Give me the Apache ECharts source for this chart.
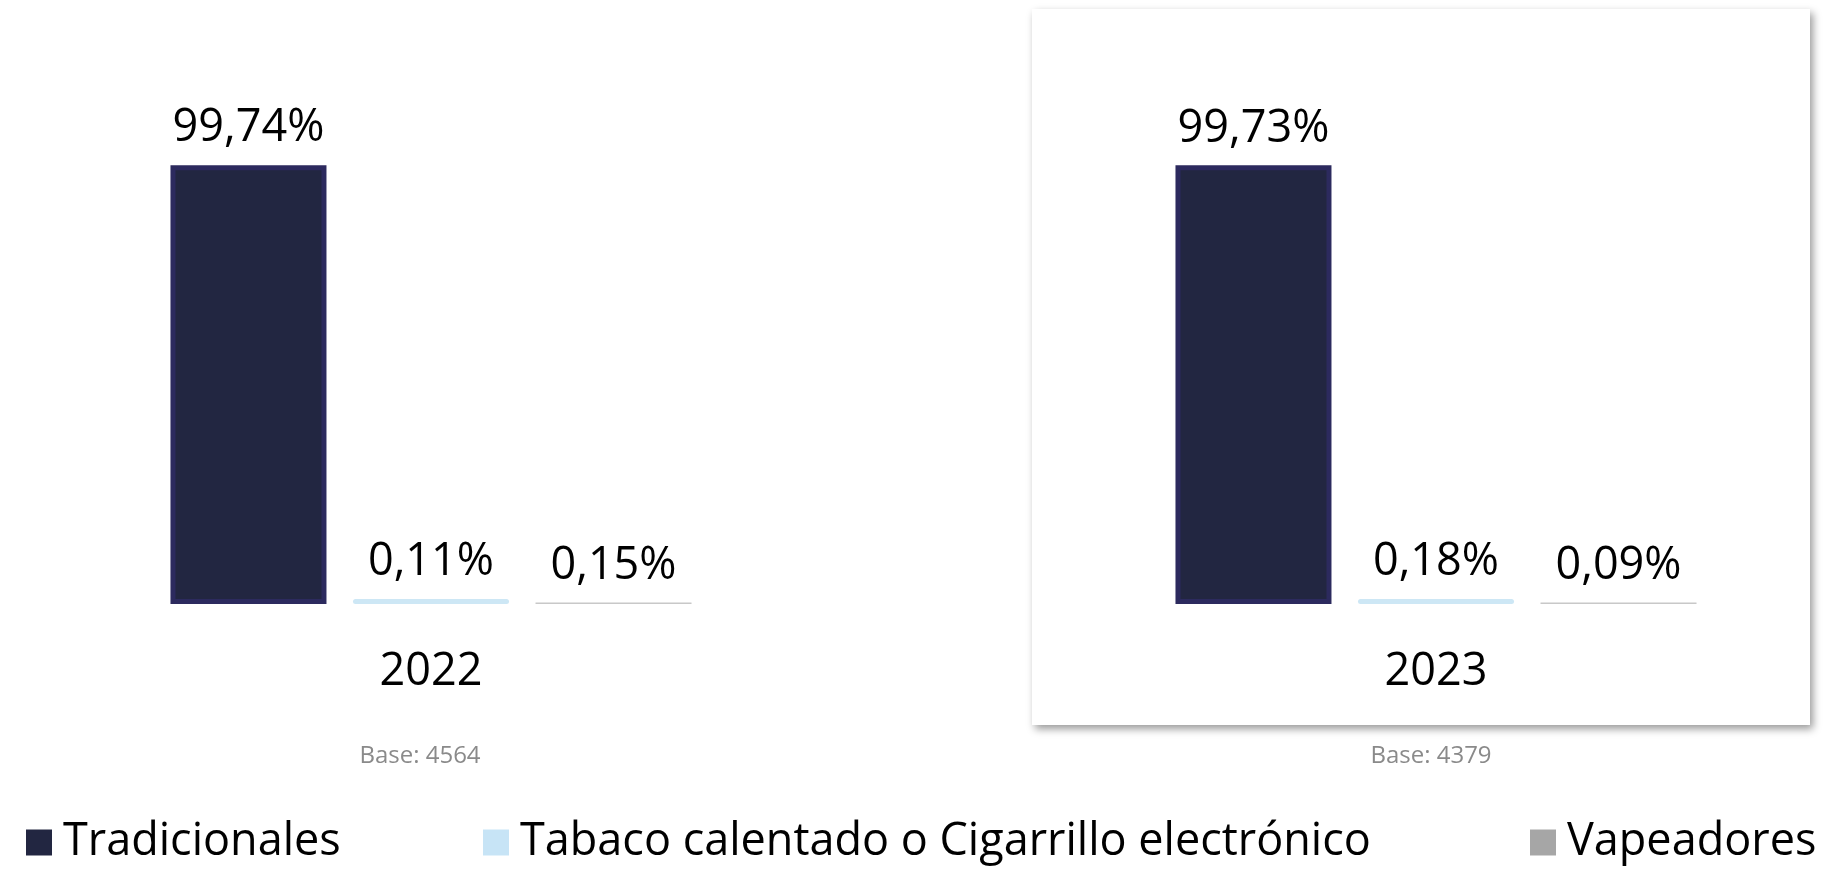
<!DOCTYPE html>
<html>
<head>
<meta charset="utf-8">
<script src="https://cdn.jsdelivr.net/npm/echarts@6/dist/echarts.min.js"></script>
<style>
html,body{margin:0;padding:0;background:#fff;}
#main{width:1824px;height:869px;}
</style>
</head>
<body>
<div id="main"></div>
<script>
const years = ['2022', '2023'];
const seriesNames = ['Tradicionales', 'Tabaco calentado o Cigarrillo electrónico', 'Vapeadores'];
const tradicionales = [99.74, 99.73];
const tabaco = [0.11, 0.18];
const vapeadores = [0.15, 0.09];
const bases = [4564, 4379];

const FONT = '"Open Sans", "Noto Sans", sans-serif';
const chart = echarts.init(document.getElementById('main'));

const gridCenters = [431, 1436];
const gridWidth = 600;
const barW = 156;

const fmt = p => p.value.toFixed(2).replace('.', ',') + '%';
const labelCfg = {
  show: true, position: 'top', distance: 14,
  formatter: fmt, color: '#000', fontSize: 45, fontFamily: FONT
};

const grids = gridCenters.map(c => ({
  left: c - gridWidth / 2, width: gridWidth, top: 164, bottom: 265
}));
const xAxes = years.map((y, i) => ({
  type: 'category', gridIndex: i, data: [y],
  axisLine: { show: false }, axisTick: { show: false },
  axisLabel: { color: '#000', fontSize: 45, fontFamily: FONT, margin: 46 }
}));
const yAxes = years.map((y, i) => ({
  type: 'value', gridIndex: i, min: 0, max: 100, show: false
}));

const series = [];
years.forEach((y, i) => {
  series.push({
    name: seriesNames[0], type: 'bar', xAxisIndex: i, yAxisIndex: i,
    data: [tradicionales[i]], barWidth: barW, barGap: '17%',
    itemStyle: { color: '#222641', borderColor: '#2c2a5e', borderWidth: 5 },
    label: labelCfg, z: 3
  });
  series.push({
    name: seriesNames[1], type: 'bar', xAxisIndex: i, yAxisIndex: i,
    data: [tabaco[i]], barWidth: barW, barGap: '17%', barMinHeight: 5,
    itemStyle: { color: '#cde7f5', borderRadius: 3 },
    label: labelCfg, z: 3
  });
  series.push({
    name: seriesNames[2], type: 'bar', xAxisIndex: i, yAxisIndex: i,
    data: vapeadores.slice(i, i + 1).map(v => ({ value: v, itemStyle: { color: '#c8c8c8' } })),
    barWidth: barW, barGap: '17%', barMinHeight: 1.5,
    itemStyle: { color: '#a6a6a6' },
    label: labelCfg, z: 3
  });
});

const legendLefts = [21, 478, 1525];
const legendColors = ['#222641', '#c7e4f6', '#a6a6a6'];
const legends = seriesNames.map((n, i) => ({
  data: [n], left: legendLefts[i], top: 815,
  icon: 'rect', itemWidth: 26, itemHeight: 26,
  itemStyle: { color: legendColors[i], borderWidth: 0 },
  textStyle: { fontSize: 45, fontFamily: FONT, color: '#000', padding: [0, 0, 0, 6] },
  selectedMode: false
}));

const graphics = [
  {
    type: 'rect', shape: { x: 1032, y: 9, width: 778, height: 716 },
    style: { fill: '#fff', shadowBlur: 8, shadowOffsetX: 3, shadowOffsetY: 4, shadowColor: 'rgba(0,0,0,0.4)' },
    z: -10, silent: true
  }
];
bases.forEach((b, i) => {
  graphics.push({
    type: 'text', x: [420, 1431][i], y: 756,
    style: { text: 'Base: ' + b, fill: '#8a8a8a', fontSize: 24, fontFamily: FONT, textAlign: 'center', textVerticalAlign: 'middle' },
    z: 5
  });
});

chart.setOption({
  backgroundColor: '#fff',
  animation: false,
  grid: grids,
  xAxis: xAxes,
  yAxis: yAxes,
  legend: legends,
  graphic: graphics,
  series: series
});
</script>
</body>
</html>
